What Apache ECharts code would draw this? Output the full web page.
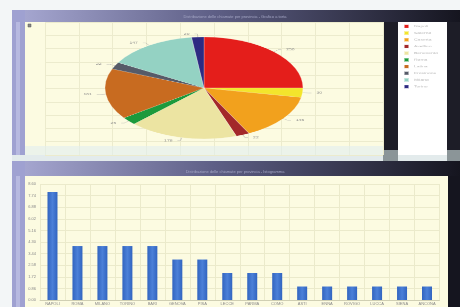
<!DOCTYPE html>
<html>
<head>
<meta charset="utf-8">
<script src="https://cdn.jsdelivr.net/npm/echarts@6/dist/echarts.min.js"></script>
<style>
  html, body { margin: 0; padding: 0; background: #f3f6f7; }
  #main { position: absolute; left: 0; top: 0; width: 460px; height: 307px; }
  /* the pie is drawn round and squashed to look tilted */
  #pie { position: absolute; left: 25px; top: 22px; width: 425px; height: 258px;
         transform: scaleY(0.515); transform-origin: 0 0; }
</style>
</head>
<body>
<div id="main"></div>
<div id="pie"></div>
<script>
// pie data
const sliceNames = ['Napoli', 'Salerno', 'Caserta', 'Avellino', 'Benevento',
                    'Roma', 'Latina', 'Frosinone', 'Milano', 'Torino'];
const sliceValues = [250, 30, 145, 22, 178, 25, 161, 22, 147, 20];
const sliceColors = ['#e41e1b', '#f3e52c', '#f2a11d', '#a3282a', '#ece4a2',
                     '#1c9a3c', '#c86b20', '#565b68', '#94d2c3', '#2d2a82'];

// bar data
const barNames = ['NAPOLI', 'ROMA', 'MILANO', 'TORINO', 'BARI', 'GENOVA', 'PISA', 'LECCE',
                  'PARMA', 'COMO', 'ASTI', 'ENNA', 'ROVIGO', 'LUCCA', 'SIENA', 'ANCONA'];
const barValues = [8, 4, 4, 4, 4, 3, 3, 2, 2, 2, 1, 1, 1, 1, 1, 1];
const yMax = 8.6;
const yStep = 0.86;

const pieTitle = 'Distribuzione delle chiamate per provincia - Grafico a torta';
const barTitle = 'Distribuzione delle chiamate per provincia - Istogramma';

function frameGrad() {
  return new echarts.graphic.LinearGradient(0, 0, 1, 0, [
    { offset: 0, color: '#a9aad4' },
    { offset: 0.45, color: '#5e5f86' },
    { offset: 1, color: '#15151f' }
  ]);
}

const main = echarts.init(document.getElementById('main'));
main.setOption({
  animation: false,
  backgroundColor: '#f3f6f7',
  graphic: [
    // upper window
    { type: 'rect', z: -10, shape: { x: 12, y: 10, width: 448, height: 12 }, style: { fill: frameGrad() } },
    { type: 'rect', z: -10, shape: { x: 12, y: 10, width: 13, height: 150 }, style: { fill: '#9fa1d1' } },
    { type: 'rect', z: -10, shape: { x: 16, y: 22, width: 4, height: 138 }, style: { fill: '#b7b9e0' } },
    { type: 'rect', z: -10, shape: { x: 25, y: 22, width: 358, height: 133 }, style: { fill: '#fcfbe1' } },
    { type: 'rect', z: -10, shape: { x: 383, y: 22, width: 77, height: 133 }, style: { fill: '#1d1d27' } },
    { type: 'rect', z: -10, shape: { x: 398, y: 22, width: 49, height: 133 }, style: { fill: '#ffffff' } },
    { type: 'rect', z: -10, shape: { x: 28, y: 24, width: 3, height: 3 }, style: { fill: '#888', stroke: '#555', lineWidth: 0.5 } },
    { type: 'text', z: 5, style: { x: 235, y: 17, text: pieTitle, fill: '#a4a6c4', font: '4px sans-serif', align: 'center', verticalAlign: 'middle' } },
    // gap between windows
    { type: 'rect', z: -10, shape: { x: 12, y: 155, width: 448, height: 6 }, style: { fill: '#e3ebec' } },
    { type: 'rect', z: -10, shape: { x: 383, y: 150, width: 15, height: 11 }, style: { fill: '#8b9598' } },
    { type: 'rect', z: -10, shape: { x: 447, y: 150, width: 13, height: 11 }, style: { fill: '#8b9598' } },
    { type: 'rect', z: 3, shape: { x: 25, y: 146, width: 358, height: 9 }, style: { fill: 'rgba(225,238,240,0.6)' } },
    // lower window
    { type: 'rect', z: -10, shape: { x: 12, y: 161, width: 448, height: 15 }, style: { fill: frameGrad() } },
    { type: 'rect', z: -10, shape: { x: 12, y: 161, width: 13, height: 146 }, style: { fill: '#9fa1d1' } },
    { type: 'rect', z: -10, shape: { x: 16, y: 176, width: 4, height: 131 }, style: { fill: '#b7b9e0' } },
    { type: 'rect', z: -10, shape: { x: 25, y: 176, width: 423, height: 131 }, style: { fill: '#fcfbe1' } },
    { type: 'rect', z: -10, shape: { x: 448, y: 176, width: 12, height: 131 }, style: { fill: '#15151f' } },
    { type: 'text', z: 5, style: { x: 235, y: 172, text: barTitle, fill: '#a4a6c4', font: '4px sans-serif', align: 'center', verticalAlign: 'middle' } }
  ],
  grid: [
    { left: 40, right: 20.5, top: 184, bottom: 7 },
    { left: 45, top: 22, width: 338, height: 133 }
  ],
  xAxis: [
    {
      type: 'category', gridIndex: 0, data: barNames,
      axisLine: { lineStyle: { color: '#b5b59a', width: 0.5 } },
      axisTick: { show: false },
      axisLabel: { fontSize: 4, color: '#8a8a8a', margin: 2, interval: 0 },
      splitLine: { show: true, lineStyle: { color: '#ebeacb', width: 1 } }
    },
    {
      type: 'value', gridIndex: 1, min: 0, max: 10, interval: 1,
      axisLine: { show: false }, axisTick: { show: false }, axisLabel: { show: false },
      splitLine: { lineStyle: { color: '#ecebcd', width: 1 } }
    }
  ],
  yAxis: [
    {
      type: 'value', gridIndex: 0, min: 0, max: yMax, interval: yStep,
      axisLine: { show: false }, axisTick: { show: false },
      axisLabel: { fontSize: 4, color: '#8a8a8a', margin: 4, formatter: v => v.toFixed(2) },
      splitLine: { lineStyle: { color: '#ebeacb', width: 1 } }
    },
    {
      type: 'value', gridIndex: 1, min: 0, max: 10, interval: 1,
      axisLine: { show: false }, axisTick: { show: false }, axisLabel: { show: false },
      splitLine: { lineStyle: { color: '#ecebcd', width: 1 } }
    }
  ],
  series: [
    {
      type: 'bar', xAxisIndex: 0, yAxisIndex: 0, data: barValues, barWidth: 10,
      itemStyle: {
        color: new echarts.graphic.LinearGradient(0, 0, 1, 0, [
          { offset: 0, color: '#3164c0' },
          { offset: 0.5, color: '#4b80d8' },
          { offset: 1, color: '#3164c0' }
        ])
      }
    }
  ]
});

const pie = echarts.init(document.getElementById('pie'));
pie.setOption({
  animation: false,
  legend: {
    orient: 'vertical', left: 378, top: 4, padding: 0,
    icon: 'rect', itemWidth: 5, itemHeight: 7, itemGap: 4,
    textStyle: { fontSize: 5, lineHeight: 7, color: '#b8b8b8' },
    data: sliceNames
  },
  series: [
    {
      type: 'pie',
      center: [179, 128],
      radius: 99,
      startAngle: 90,
      clockwise: true,
      data: sliceNames.map((n, i) => ({ name: n, value: sliceValues[i], itemStyle: { color: sliceColors[i] } })),
      itemStyle: { borderColor: 'rgba(255,255,255,0.5)', borderWidth: 0.5 },
      label: { fontSize: 5, color: '#8a8a8a', formatter: '{c}' },
      labelLine: { length: 6, length2: 3, lineStyle: { color: '#aaa', width: 0.6 } }
    }
  ]
});
</script>
</body>
</html>
